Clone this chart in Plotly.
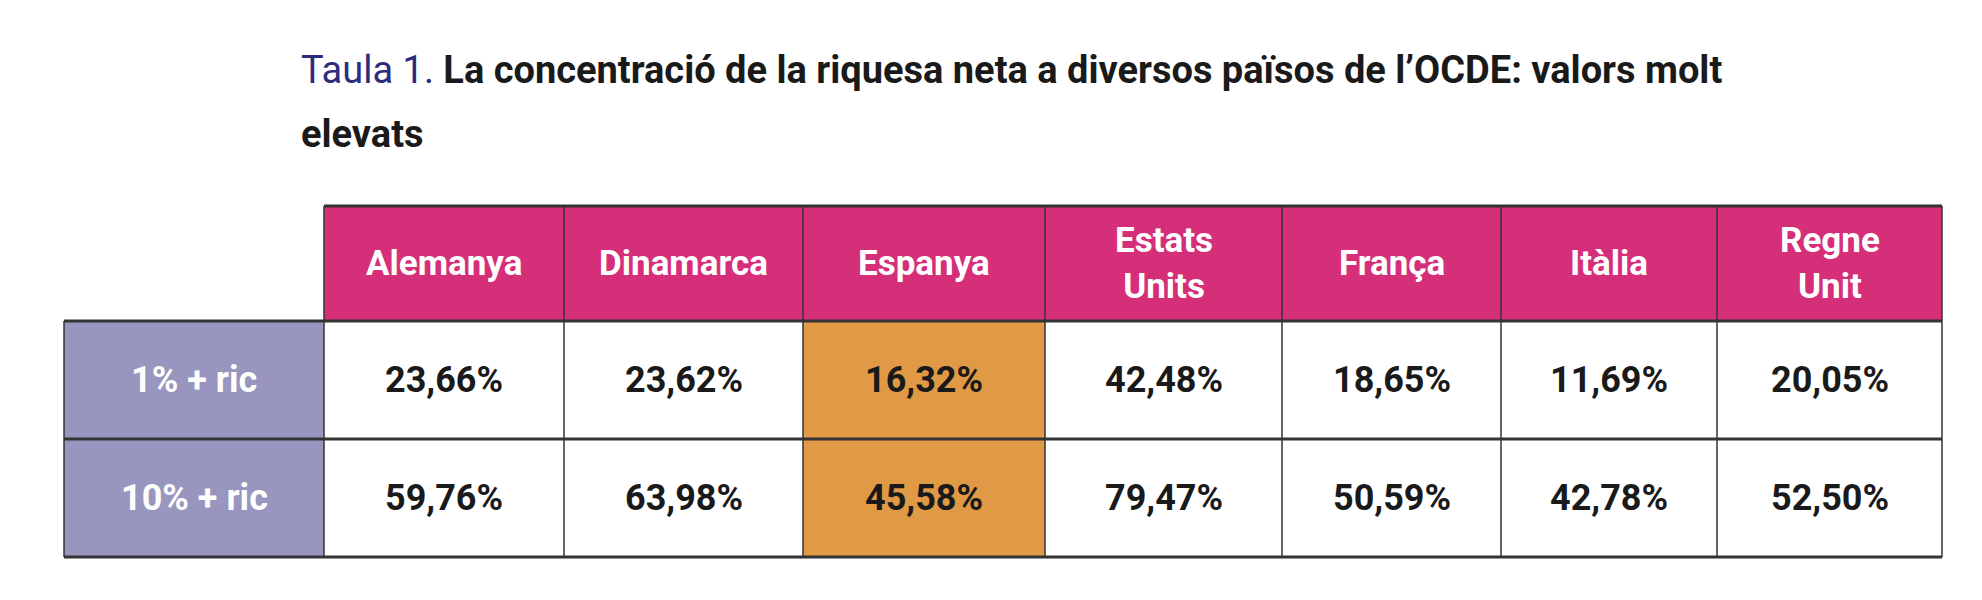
import plotly.graph_objects as go

countries = ["Alemanya", "Dinamarca", "Espanya", "Estats<br>Units", "França", "Itàlia", "Regne<br>Unit"]
row_labels = ["1% + ric", "10% + ric"]
top1 = ["23,66%", "23,62%", "16,32%", "42,48%", "18,65%", "11,69%", "20,05%"]
top10 = ["59,76%", "63,98%", "45,58%", "79,47%", "50,59%", "42,78%", "52,50%"]
highlight = "Espanya"

# layout of the grid (pixels)
xs = [56, 316, 556, 795, 1037, 1274, 1493, 1709, 1934]
ys = [198, 313, 431, 549]
FONT = "Roboto, sans-serif"

fig = go.Figure()
shapes = []
ann = []

def rect(x0, x1, y0, y1, fill):
    shapes.append(dict(type="rect", x0=x0, x1=x1, y0=y0, y1=y1, fillcolor=fill,
                       line=dict(width=0), layer="below"))

def label(x, y, text, color, size=36):
    ann.append(dict(x=x, y=y, text="<b>" + text + "</b>", showarrow=False,
                    font=dict(family=FONT, size=size, color=color)))

for i, c in enumerate(countries):
    x0, x1 = xs[i + 1], xs[i + 2]
    rect(x0, x1, ys[0], ys[1], "#d62f7a")
    label((x0 + x1) / 2, (ys[0] + ys[1]) / 2, c, "white", 35)
    for r, vals in enumerate([top1, top10]):
        fill = "#e09944" if c == highlight else "white"
        rect(x0, x1, ys[r + 1], ys[r + 2], fill)
        label((x0 + x1) / 2, (ys[r + 1] + ys[r + 2]) / 2, vals[i], "#1a1a1a")

for r, lab in enumerate(row_labels):
    rect(xs[0], xs[1], ys[r + 1], ys[r + 2], "#9896bf")
    label((xs[0] + xs[1]) / 2, (ys[r + 1] + ys[r + 2]) / 2, lab, "white")

line_c = "#333333"
shapes.append(dict(type="line", x0=xs[1], x1=xs[-1], y0=ys[0], y1=ys[0], line=dict(color=line_c, width=3)))
for y in ys[1:]:
    shapes.append(dict(type="line", x0=xs[0], x1=xs[-1], y0=y, y1=y, line=dict(color=line_c, width=3)))
shapes.append(dict(type="line", x0=xs[0], x1=xs[0], y0=ys[1], y1=ys[3], line=dict(color=line_c, width=1.5)))
for x in xs[1:]:
    shapes.append(dict(type="line", x0=x, x1=x, y0=ys[0], y1=ys[3], line=dict(color=line_c, width=1.5)))

# title
ann.append(dict(x=291, y=62, xanchor="left", showarrow=False,
                text="<span style='color:#2e2a7d'>Taula 1.</span> <b>La concentració de la riquesa neta a diversos països de l’OCDE: valors molt</b>",
                font=dict(family=FONT, size=38, color="#1a1a1a")))
ann.append(dict(x=291, y=126, xanchor="left", showarrow=False, text="<b>elevats</b>",
                font=dict(family=FONT, size=38, color="#1a1a1a")))

fig.update_layout(width=1982, height=600, margin=dict(l=0, r=0, t=0, b=0),
                  plot_bgcolor="white", paper_bgcolor="white",
                  shapes=shapes, annotations=ann, showlegend=False,
                  xaxis=dict(range=[0, 1982], visible=False, fixedrange=True),
                  yaxis=dict(range=[600, 0], visible=False, fixedrange=True))
fig.write_html("out.html")
